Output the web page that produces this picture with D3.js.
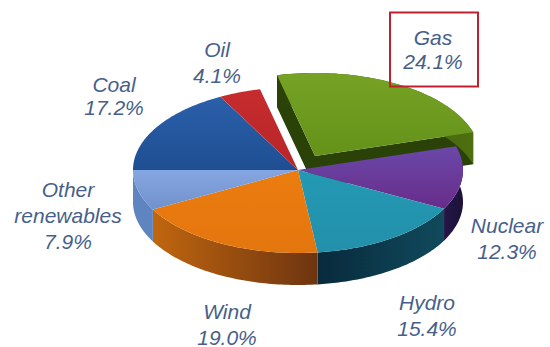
<!DOCTYPE html>
<html>
<head>
<meta charset="utf-8">
<script src="https://cdn.jsdelivr.net/npm/d3@7"></script>
<style>
html,body{margin:0;padding:0;background:#fff}
svg{display:block}
text{font-family:"Liberation Sans",Arial,sans-serif;font-style:italic;fill:#475f8a;font-size:21px;text-anchor:middle}
</style>
</head>
<body>
<svg id="chart" width="550" height="347"></svg>
<script>
// Shares of the energy mix, clockwise from Gas
const categories = ["Gas", "Nuclear", "Hydro", "Wind", "Other renewables", "Coal", "Oil"];
const shares = [24.1, 12.3, 15.4, 19.0, 7.9, 17.2, 4.1];

// Top face colours (upper, lower) and rim colours (left, right) per slice
const topUpper = ["#76a324", "#6a48a8", "#2499b4", "#ea7c10", "#86a6e2", "#2a60aa", "#c62c2e"];
const topLower = ["#64921a", "#682c8a", "#2290aa", "#e4760e", "#7092cc", "#1f4e92", "#b72528"];
const rimLeft = ["#2a4207", "#241648", "#082a3c", "#c0660f", "#5f85c0", "#1c3f78", "#7f1c1e"];
const rimRight = ["#4e7010", "#1c1238", "#104a5c", "#6e3410", "#5f85c0", "#1c3f78", "#7f1c1e"];

const labelLines = [["Gas", "24.1%"], ["Nuclear", "12.3%"], ["Hydro", "15.4%"], ["Wind", "19.0%"], ["Other", "renewables", "7.9%"], ["Coal", "17.2%"], ["Oil", "4.1%"]];
const labelX = [433, 507, 427, 227, 68, 114, 217];
const labelY = [45, 233, 310, 319, 197, 92, 57];
const lineGaps = [24, 26, 26, 26, 26, 23, 26];

const cx = 298, cy = 170, rx = 165, ry = 83, depth = 32;
const explode = {x: 17, y: -14};
const startDeg = -13.3;

const svg = d3.select("#chart");
const defs = svg.append("defs");

const slices = d3.pie().sort(null).value(d => d)
  .startAngle(startDeg * Math.PI / 180)
  .endAngle((startDeg + 360) * Math.PI / 180)(shares);

// Ellipse position for a pie angle (0 = top, clockwise)
const px = a => rx * Math.sin(a);
const py = a => -ry * Math.cos(a);
const line = d3.line();

function edge(s, drop) {
  return d3.range(61).map(i => {
    const a = s.startAngle + (s.endAngle - s.startAngle) * i / 60;
    return [px(a), py(a) + drop];
  });
}

const topPath = s => line([[0, 0], ...edge(s, 0)]) + "Z";

// Outer rim of a slice: its arc swept down by the pie's thickness
const rimPath = s => line([...edge(s, 0), ...edge(s, depth).reverse()]) + "Z";

// Cut faces of a slice, seen where it is pulled out of the pie
function cutPath(s) {
  const a = [px(s.startAngle), py(s.startAngle)];
  const b = [px(s.endAngle), py(s.endAngle)];
  return line([a, [0, 0], b, [b[0], b[1] + depth], [0, depth], [a[0], a[1] + depth]]) + "Z";
}

function rimFill(i) {
  const xs = edge(slices[i], 0).map(p => p[0]);
  const g = defs.append("linearGradient").attr("id", "rim" + i)
    .attr("gradientUnits", "userSpaceOnUse")
    .attr("x1", d3.min(xs)).attr("x2", d3.max(xs)).attr("y1", 0).attr("y2", 0);
  g.append("stop").attr("offset", 0).attr("stop-color", rimLeft[i]);
  g.append("stop").attr("offset", 1).attr("stop-color", rimRight[i]);
  return `url(#rim${i})`;
}

function topFill(i) {
  const ys = edge(slices[i], 0).map(p => p[1]).concat(0);
  const g = defs.append("linearGradient").attr("id", "top" + i)
    .attr("gradientUnits", "userSpaceOnUse")
    .attr("x1", 0).attr("x2", 0).attr("y1", d3.min(ys)).attr("y2", d3.max(ys));
  g.append("stop").attr("offset", 0).attr("stop-color", topUpper[i]);
  g.append("stop").attr("offset", 1).attr("stop-color", topLower[i]);
  return `url(#top${i})`;
}

// The pulled-out gas slice sits behind the rest of the pie
const gas = svg.append("g").attr("transform", `translate(${cx + explode.x},${cy + explode.y})`);
gas.append("path").attr("d", cutPath(slices[0])).attr("fill", rimLeft[0]);
gas.append("path").attr("d", rimPath(slices[0])).attr("fill", rimFill(0));
gas.append("path").attr("d", topPath(slices[0])).attr("fill", topFill(0));

const body = svg.append("g").attr("transform", `translate(${cx},${cy})`);
[1, 2, 3, 4].forEach(i => {
  body.append("path").attr("d", rimPath(slices[i])).attr("fill", rimFill(i));
});
[1, 2, 3, 4, 5, 6].forEach(i => {
  body.append("path").attr("d", topPath(slices[i])).attr("fill", topFill(i));
});

// Two- and three-line labels
const labels = svg.append("g");
slices.forEach((s, i) => {
  const t = labels.append("text").attr("data-name", categories[i]);
  labelLines[i].forEach((txt, j) => {
    t.append("tspan").attr("x", labelX[i]).attr("y", labelY[i] + j * lineGaps[i]).text(txt);
  });
});

// Callout box round the gas label
svg.append("rect").attr("x", 390).attr("y", 12.5).attr("width", 88).attr("height", 74)
  .attr("fill", "none").attr("stroke", "#bf2030").attr("stroke-width", 2);
</script>
</body>
</html>
